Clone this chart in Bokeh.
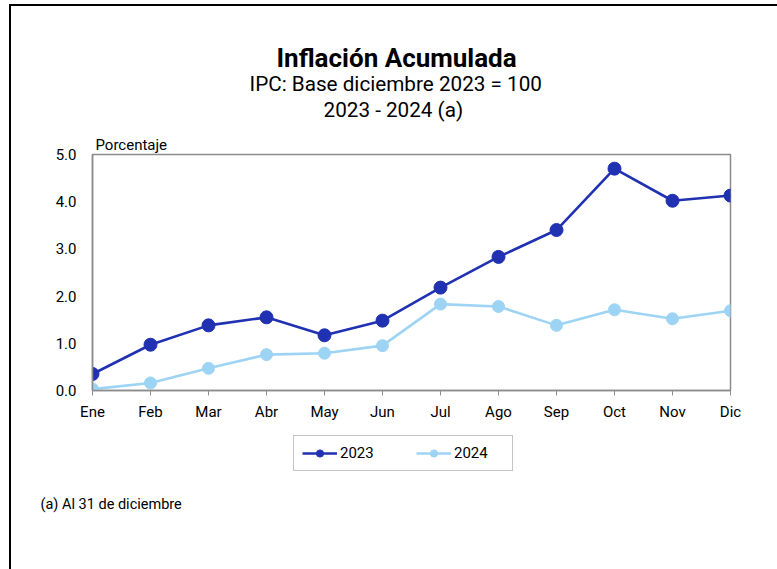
from bokeh.plotting import figure
from bokeh.layouts import column
from bokeh.models import (Legend, LegendItem, FixedTicker, Range1d, Title,
                          ColumnDataSource, PrintfTickFormatter)
from bokeh.embed import file_html
from bokeh.resources import INLINE

months = ["Ene", "Feb", "Mar", "Abr", "May", "Jun", "Jul", "Ago", "Sep", "Oct", "Nov", "Dic"]
infl_2023 = [0.35, 0.97, 1.38, 1.55, 1.17, 1.48, 2.18, 2.83, 3.40, 4.70, 4.02, 4.13]
infl_2024 = [0.03, 0.16, 0.47, 0.76, 0.79, 0.95, 1.83, 1.78, 1.38, 1.71, 1.52, 1.69]
y_ticks = [0.0, 1.0, 2.0, 3.0, 4.0, 5.0]
series_names = ["2023", "2024"]

title = "Inflación Acumulada"
subtitle1 = "IPC: Base diciembre 2023 = 100"
subtitle2 = "2023 - 2024 (a)"
y_label = "Porcentaje"
footnote = "(a) Al 31 de diciembre"

FONT = "Roboto"
C23 = "#2031B2"
C24 = "#9DD4F4"
GRAY = "#8C8C8C"

x = list(range(len(months)))
src = ColumnDataSource(dict(x=x, y23=infl_2023, y24=infl_2024))

W = 766
BL, BR = 81, 47

# ---------------- main chart ----------------
p = figure(width=W, height=424, output_backend="svg", toolbar_location=None,
           x_range=Range1d(0, len(months) - 1), y_range=Range1d(0, 5),
           min_border_left=BL, min_border_right=BR, min_border_top=148, min_border_bottom=40)

p.grid.visible = False
p.outline_line_color = GRAY
p.outline_line_width = 1.5
p.background_fill_color = "white"
p.border_fill_color = "white"

p.xaxis.ticker = FixedTicker(ticks=x)
p.xaxis.major_label_overrides = {i: m for i, m in enumerate(months)}
p.xaxis.major_label_text_font = FONT
p.xaxis.major_label_text_font_size = "15px"
p.xaxis.major_label_text_color = "black"
p.xaxis.major_label_standoff = 7
p.xaxis.major_tick_in = 0
p.xaxis.major_tick_out = 5
p.xaxis.major_tick_line_color = GRAY
p.xaxis.minor_tick_line_color = None
p.xaxis.axis_line_color = GRAY
p.xaxis.axis_line_width = 1.5

p.yaxis.ticker = FixedTicker(ticks=y_ticks)
p.yaxis.formatter = PrintfTickFormatter(format="%.1f")
p.yaxis.major_label_text_font = FONT
p.yaxis.major_label_text_font_size = "15px"
p.yaxis.major_label_text_color = "black"
p.yaxis.major_label_standoff = 16
p.yaxis.major_tick_in = 0
p.yaxis.major_tick_out = 0
p.yaxis.major_tick_line_color = None
p.yaxis.minor_tick_line_color = None
p.yaxis.axis_line_color = GRAY
p.yaxis.axis_line_width = 1.5

p.line("x", "y23", source=src, line_color=C23, line_width=2.6)
p.scatter("x", "y23", source=src, size=13, fill_color=C23, line_color=C23)
p.line("x", "y24", source=src, line_color=C24, line_width=2.6)
p.scatter("x", "y24", source=src, size=12, fill_color=C24, line_color=C24)

# Titles above: first added sits closest to the plot frame
def add_title(text, size, offset, standoff, bold=False):
    p.add_layout(Title(text=text, align="left", offset=offset, standoff=standoff,
                       text_font=FONT, text_font_size=size, text_color="black",
                       text_font_style="bold" if bold else "normal"), "above")

add_title(y_label, "15px", 3, 2)
add_title(subtitle2, "20.7px", 231, 21)
add_title(subtitle1, "20.7px", 157, -21)
add_title(title, "26px", 184, 15, bold=True)

# ---------------- legend + footnote strip ----------------
p2 = figure(width=W, height=139, output_backend="svg", toolbar_location=None,
            x_range=Range1d(0, 1), y_range=Range1d(0, 1),
            x_axis_location=None, y_axis_location=None,
            min_border_left=BL, min_border_right=BR,
            min_border_top=0, min_border_bottom=94)
p2.grid.visible = False
p2.outline_line_color = None
p2.border_fill_color = "white"

# legend-only renderers (no visible data in this strip)
empty = ColumnDataSource(dict(x=[float("nan")], y=[float("nan")]))
g23l = p2.line("x", "y", source=empty, line_color=C23, line_width=2.6)
g23m = p2.scatter("x", "y", source=empty, size=13, fill_color=C23, line_color=C23)
g24l = p2.line("x", "y", source=empty, line_color=C24, line_width=2.6)
g24m = p2.scatter("x", "y", source=empty, size=12, fill_color=C24, line_color=C24)

legend = Legend(items=[LegendItem(label=series_names[0], renderers=[g23l, g23m]),
                       LegendItem(label=series_names[1], renderers=[g24l, g24m])],
                orientation="horizontal", location=(201, 4),
                border_line_color=GRAY, border_line_width=1.5,
                background_fill_color="white", background_fill_alpha=1,
                label_text_font=FONT, label_text_font_size="15px",
                label_text_color="black",
                glyph_width=35, glyph_height=18, label_height=18, label_width=50,
                spacing=26, padding=8, margin=0, label_standoff=3)
p2.add_layout(legend, "center")

p2.add_layout(Title(text=footnote, align="left", offset=-52, standoff=36,
                    text_font=FONT, text_font_size="14.5px", text_color="black",
                    text_font_style="normal"), "below")

layout = column(p, p2, spacing=0,
                styles={"border-left": "2px solid black", "border-top": "2px solid black",
                        "margin-left": "9px", "margin-top": "4px"})

open("out.html", "w").write(file_html(layout, INLINE))
